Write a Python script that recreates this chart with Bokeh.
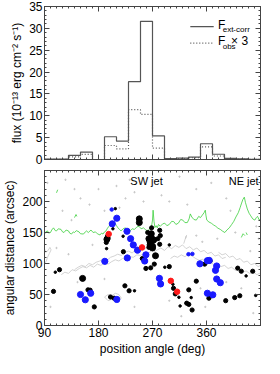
from bokeh.plotting import figure
from bokeh.models import LinearAxis, FixedTicker, Label, Range1d
from bokeh.layouts import column
from bokeh.embed import file_html
from bokeh.resources import INLINE

# ---------------- data: histogram (top panel) ----------------
bin_edges = [90, 110, 130, 150, 170, 190, 210, 230, 250, 270, 290, 310, 330, 350, 370, 390, 410, 430, 450]
f_ext_corr = [0.1, 0.1, 0.95, 1.7, 0.0, 5.2, 4.2, 17.8, 31.6, 5.4, 0.2, 0.3, 0.55, 3.6, 1.2, 0.25, 0.15, 0.05]
f_obs_x3 = [0.05, 0.05, 0.6, 1.15, 0.0, 3.2, 2.45, 11.4, 10.3, 2.6, 0.15, 0.2, 0.4, 2.9, 0.8, 0.2, 0.1, 0.03]

# ---------------- data: bottom panel ----------------
black_pa = [115, 108, 153.5, 105, 162.5, 166, 173, 200, 206, 224, 231, 240,
            194, 195, 193, 196, 193.5, 204, 208, 221, 221.5, 248, 248,
            264, 266, 268, 266, 270, 268, 272, 270, 264, 268.5, 262,
            253, 259, 267, 273, 275, 282, 279, 282, 283, 298, 290.5, 298,
            305, 304, 308, 314, 316, 327, 330.5, 336, 330.5, 334.5, 343, 357,
            366, 364, 392, 407, 415.5, 412, 418, 426, 437, 442]
black_dist = [90, 86, 76, 55, 57.5, 57, 30, 46, 44, 64, 56, 56,
              139, 144, 134, 141, 124, 156, 188.5, 144, 119, 172, 166,
              140, 135, 142, 130, 128, 148, 138, 125, 126, 157.5, 150,
              108, 92, 93, 99, 112.5, 153.5, 140, 131, 145, 130, 94, 95,
              60, 66.5, 51, 45.5, 31.5, 36, 34, 25, 57.5, 45, 71.5, 99,
              104, 44, 40, 45, 48, 92.5, 87.5, 80, 87.5, 48.5]
black_cls = [2, 1, 3, 2, 2, 2, 2, 2, 2, 2, 2, 1,
             3, 2, 2, 2, 1, 1, 1, 1, 2, 3, 3,
             3, 3, 3, 3, 3, 3, 3, 3, 2, 2, 2,
             2, 2, 2, 2, 3, 2, 2, 2, 2, 1, 1, 2,
             2, 1, 2, 1, 1, 2, 2, 2, 2, 1, 2, 2,
             2, 2, 2, 2, 2, 2, 2, 1, 2, 1]

blue_pa = [202, 210.5, 203, 227.5, 233.5, 238, 245, 228, 190.5, 150, 158, 167, 210.5,
           259, 257, 281.5, 283.5, 330, 336.5, 349, 361.5, 364.5, 375, 377, 377, 383, 361.5, 370.5]
blue_dist = [187, 173, 164, 152, 140, 130, 121.5, 109, 103.5, 50, 41.5, 52, 42,
             114, 104, 76, 67, 115, 115.5, 99.5, 104.5, 105, 89, 96, 75, 69, 52, 49.5]
blue_cls = [1, 2, 2, 2, 2, 2, 2, 2, 2, 2, 2, 2, 2,
            2, 2, 2, 2, 1, 1, 2, 2, 2, 2, 2, 2, 2, 2, 2]

red_pa = [197, 252.5, 300.5, 311]
red_dist = [147.5, 126, 72, 54.5]

green_pa = [90, 92, 95, 97, 100, 102, 105, 108, 110, 113, 117.5, 120, 122.5, 126, 130, 132, 135,
            138, 140, 143, 147.5, 150, 155, 158, 160, 163, 167.5, 171, 175, 178, 182.5, 185,
            187.5, 190, 192.5, 195, 197.5, 200, 202.5, 205, 207.5, 210, 212.5, 215, 217.5, 221,
            225, 228, 232.5, 236, 240, 244, 247.5, 251, 255, 259, 262.5, 265, 268, 270, 271,
            272.5, 274, 276, 278, 280, 283, 287, 290.5, 294, 298, 302, 305.5, 309, 313, 317,
            320.5, 324, 328, 331, 333, 335.5, 339, 343, 347, 350, 353, 356, 358, 359, 360.5,
            364, 368, 372, 375.5, 379, 383, 387, 390.5, 394, 398, 402, 405.5, 409, 413, 416,
            418, 420.5, 423, 425, 428, 431, 433, 437, 440.5, 443, 445, 448, 450]
green_dist = [147.5, 151, 152.5, 149, 150, 154, 157.5, 153, 152.5, 156, 155, 151, 150, 154,
              152.5, 149, 147.5, 151, 150, 153, 151, 148, 147.5, 151, 152.5, 150, 154, 150,
              151, 148, 146, 149, 147.5, 151, 152.5, 157, 160, 164, 162.5, 167, 165, 161,
              157.5, 155, 152.5, 156, 157.5, 154, 152.5, 156, 155, 159, 160, 156, 157.5, 154,
              152.5, 156, 157.5, 170, 186, 168, 158, 161, 157.5, 163, 160, 164, 165, 161, 163,
              168, 167.5, 163, 165, 171, 170, 166, 166, 172, 180, 175, 171, 170, 176, 174, 178,
              182, 186, 178, 170, 167, 165, 162, 160, 157, 155, 152, 150, 154, 157.5, 163, 168,
              175, 182, 190, 196, 203, 207, 198, 188, 181, 178, 172, 170, 174, 176, 170, 172]
green_bits_pa = [[110, 112], [140, 142.5, 144], [418, 421, 424], [426, 428]]
green_bits_dist = [[214, 219], [174, 179, 176], [142, 148, 145], [150, 146]]

gray_pa = [[90, 93, 95, 98, 101, 99, 96, 92, 90],
           [118, 124, 130, 136, 142, 148, 154, 160, 166, 172, 178, 184, 190, 196, 202, 208, 214,
            220, 226, 232, 238, 244, 250, 256, 262, 268],
           [140, 146, 152, 158, 164, 170, 176, 182, 188, 194, 200, 206, 212, 218, 224, 230, 236,
            242, 248, 254, 260, 266, 272],
           [272, 278, 284, 290, 296, 302, 308, 314, 320, 326, 332, 338, 344, 350, 356, 362, 368,
            374, 380, 386, 392],
           [300, 306, 312, 318, 324, 330, 336, 342, 348, 354, 360, 366, 372, 378, 384, 390, 396,
            402, 408, 414, 420, 426, 432, 438, 444, 450],
           [380, 386, 392, 398, 404, 410, 416, 422, 428, 434, 440, 446, 450],
           [190, 196, 202, 208, 214, 218, 212, 204, 196, 190],
           [322, 324, 326, 325, 327]]
gray_dist = [[100, 104, 110, 116, 122, 126, 121, 118, 124],
             [82, 86, 84, 90, 88, 92, 95, 93, 97, 94, 99, 97, 101, 99, 103, 106, 104, 108, 107,
              111, 110, 114, 113, 117, 116, 120],
             [90, 94, 97, 95, 100, 98, 102, 104, 107, 105, 110, 112, 115, 113, 118, 120, 117, 122,
              124, 121, 126, 125, 128],
             [118, 122, 125, 121, 127, 124, 129, 126, 130, 124, 127, 122, 125, 119, 121, 116, 118,
              112, 114, 108, 110],
             [108, 112, 110, 114, 111, 115, 112, 108, 105, 107, 101, 103, 98, 100, 95, 97, 92, 94,
              89, 91, 86, 88, 84, 86, 82, 85],
             [118, 114, 116, 110, 112, 106, 108, 102, 104, 98, 100, 95, 97],
             [46, 50, 48, 52, 50, 44, 41, 43, 40, 46],
             [132, 138, 144, 140, 146]]

speck_pa = [95, 140, 150, 165, 180, 210, 225, 240, 120, 135, 190, 215, 110, 130, 170, 145, 190,
            240, 100, 315, 343, 368, 393, 298, 328, 378, 408, 433, 443, 343, 353, 393, 418, 358,
            318, 438, 298, 255, 285, 400, 447, 125, 232, 350]
speck_dist = [230, 220, 205, 195, 220, 225, 205, 215, 185, 170, 185, 190, 125, 115, 130, 70, 75,
              30, 30, 240, 220, 230, 205, 200, 195, 140, 150, 120, 160, 145, 135, 70, 60, 30, 15,
              20, 40, 200, 210, 185, 140, 235, 235, 60]

FONT = "Liberation Sans"
AXC = "#444444"


def style_axis(ax, labels=True):
    ax.major_tick_in = 5
    ax.major_tick_out = 0
    ax.minor_tick_in = 2
    ax.minor_tick_out = 0
    ax.axis_line_color = AXC
    ax.major_tick_line_color = AXC
    ax.minor_tick_line_color = AXC
    ax.major_label_text_font = FONT
    ax.major_label_text_color = "black"
    ax.major_label_text_font_size = "12px"
    ax.axis_label_text_font = FONT
    ax.axis_label_text_font_style = "normal"
    ax.axis_label_text_color = "black"
    ax.axis_label_text_font_size = "12px"
    ax.axis_label_standoff = 2
    ax.major_label_standoff = 2
    if not labels:
        ax.major_label_overrides = {t: "" for t in ax.ticker.ticks}
        ax.major_label_standoff = 0


def x_ticker():
    return FixedTicker(ticks=[90, 180, 270, 360, 450], minor_ticks=list(range(90, 451, 10)))


def y_ticker_top():
    return FixedTicker(ticks=[0, 5, 10, 15, 20, 25, 30, 35], minor_ticks=list(range(0, 36)))


def y_ticker_bot():
    return FixedTicker(ticks=[0, 50, 100, 150, 200, 250], minor_ticks=list(range(0, 251, 10)))


# ---------------- top panel ----------------
top = figure(width=264, height=167, x_range=Range1d(90, 450), y_range=Range1d(0, 35),
             output_backend="svg", toolbar_location=None, x_axis_location=None,
             y_axis_location=None,
             min_border_left=38, min_border_right=4, min_border_top=6, min_border_bottom=8)
top.grid.visible = False
top.outline_line_color = AXC

top.step(x=bin_edges, y=f_ext_corr + [f_ext_corr[-1]], mode="after",
         line_color="#555555", line_width=1.2)
top.step(x=bin_edges, y=f_obs_x3 + [f_obs_x3[-1]], mode="after",
         line_color="#555555", line_width=1.2, line_dash="1 2")

ay_l = LinearAxis(ticker=y_ticker_top(), axis_label="flux (10⁻¹³ erg cm⁻² s⁻¹)")
style_axis(ay_l)
top.add_layout(ay_l, "left")
ay_r = LinearAxis(ticker=y_ticker_top())
style_axis(ay_r, labels=False)
top.add_layout(ay_r, "right")
ax_b = LinearAxis(ticker=x_ticker())
style_axis(ax_b, labels=False)
top.add_layout(ax_b, "below")
ax_a = LinearAxis(ticker=x_ticker())
style_axis(ax_a, labels=False)
top.add_layout(ax_a, "above")

# legend (annotation)
top.line([333, 372], [30.4, 30.4], line_color="#555555", line_width=1.2)
top.line([333, 372], [26.6, 26.6], line_color="#555555", line_width=1.2, line_dash="1 2")
for txt, xx, yy, fs in [("F", 379, 29.2, "12px"), ("ext-corr", 387, 28.6, "8px"),
                        ("F", 379, 25.4, "12px"), ("obs", 387, 24.8, "8px"),
                        ("× 3", 401, 25.4, "12px")]:
    top.add_layout(Label(x=xx, y=yy, text=txt, text_font=FONT, text_font_size=fs,
                         text_color="black"))

# ---------------- bottom panel ----------------
bot = figure(width=264, height=191, x_range=Range1d(90, 450), y_range=Range1d(0, 250),
             output_backend="svg", toolbar_location=None, x_axis_location=None,
             y_axis_location=None,
             min_border_left=38, min_border_right=4, min_border_top=3, min_border_bottom=0)
bot.grid.visible = False
bot.outline_line_color = AXC

bot.scatter(speck_pa, speck_dist, size=1.3, color="#c8c8c8")
bot.multi_line(gray_pa, gray_dist, line_color="#c8c8c8", line_width=0.8)
bot.line(green_pa, green_dist, line_color="#3ccf3c", line_width=0.8)
bot.multi_line(green_bits_pa, green_bits_dist, line_color="#3ccf3c", line_width=0.8)

size_map = {1: 2.5, 2: 4.2, 3: 6}
bot.scatter(black_pa, black_dist, size=[size_map[c] for c in black_cls], color="black")
bot.scatter(blue_pa, blue_dist, size=[3.5 if c == 1 else 6.2 for c in blue_cls], color="#1a1aff")
bot.scatter(red_pa, red_dist, size=5.5, color="#ff1a1a")

bot.add_layout(Label(x=260, y=224, text="SW jet", text_font=FONT, text_font_size="11px",
                     text_align="center", text_color="black"))
bot.add_layout(Label(x=422, y=224, text="NE jet", text_font=FONT, text_font_size="11px",
                     text_align="center", text_color="black"))

by_l = LinearAxis(ticker=y_ticker_bot(), axis_label="angular distance (arcsec)")
style_axis(by_l)
by_l.major_label_overrides = {250: ""}
bot.add_layout(by_l, "left")
by_r = LinearAxis(ticker=y_ticker_bot())
style_axis(by_r, labels=False)
bot.add_layout(by_r, "right")
bx_b = LinearAxis(ticker=x_ticker(), axis_label="position angle (deg)")
style_axis(bx_b)
bx_b.major_label_overrides = {450: ""}
bot.add_layout(bx_b, "below")
bx_a = LinearAxis(ticker=x_ticker())
style_axis(bx_a, labels=False)
bot.add_layout(bx_a, "above")

layout = column(top, bot)
open("out.html", "w").write(file_html(layout, INLINE))
